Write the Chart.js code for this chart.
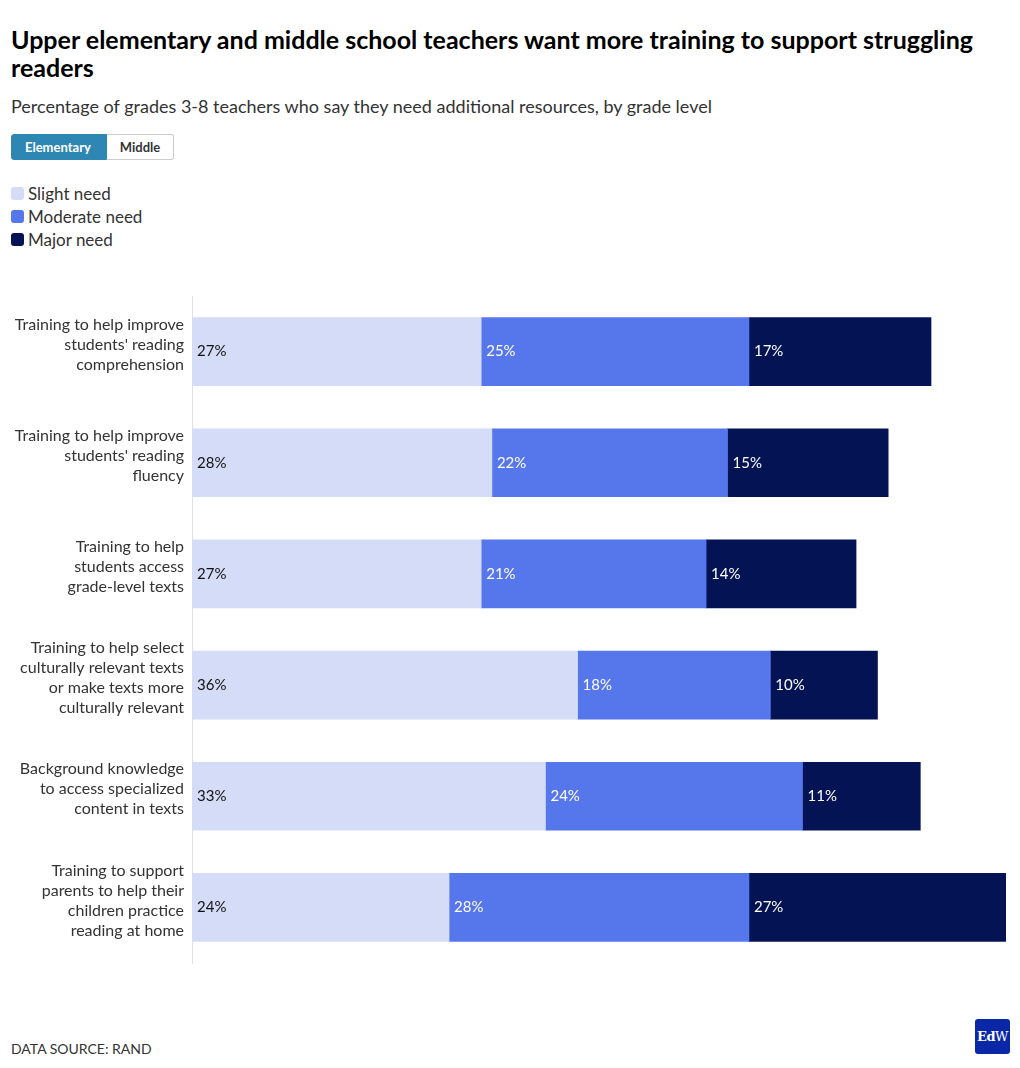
<!DOCTYPE html>
<html><head><meta charset="utf-8">
<script src="https://cdn.jsdelivr.net/npm/chart.js@4/dist/chart.umd.min.js"></script>
<style>
html,body{margin:0;padding:0;background:#fff;}
body{width:1020px;height:1068px;position:relative;font-family:"Lato","Noto Sans",sans-serif;color:#333;overflow:hidden;}
#title{position:absolute;left:11px;top:25px;width:1005px;font-size:25px;font-weight:700;line-height:28px;color:#000;}
#sub{position:absolute;left:11px;top:95px;font-size:18px;color:#333;white-space:nowrap;}
#btns{position:absolute;left:11px;top:134px;display:flex;}
.btn{height:24px;line-height:24px;font-size:13px;font-weight:700;border:1px solid #ccc;}
.on{background:#2e86b3;color:#fff;border-color:#2e86b3;border-radius:3px 0 0 3px;padding:0 15px 0 13px;}
.off{background:#fff;color:#333;border-left:none;border-radius:0 3px 3px 0;padding:0 13px 0 13px;}
#legend{position:absolute;left:11px;top:182px;}
.li{display:flex;align-items:center;height:23px;font-size:17px;color:#333;}
.sw{width:13px;height:13px;border-radius:3px;margin-right:4px;}
#cv{position:absolute;left:0;top:286px;}
#src{position:absolute;left:11px;top:1040px;font-size:14px;color:#333;}
#logo{position:absolute;left:975px;top:1019px;width:35px;height:35px;background:#0a27a8;border-radius:3px;color:#fff;font-family:"DejaVu Serif",serif;font-size:13px;font-weight:700;text-align:center;line-height:35px;letter-spacing:-0.5px;}
</style></head>
<body>
<div id="title">Upper elementary and middle school teachers want more training to support struggling<br>readers</div>
<div id="sub">Percentage of grades 3-8 teachers who say they need additional resources, by grade level</div>
<div id="btns"><div class="btn on">Elementary</div><div class="btn off">Middle</div></div>
<div id="legend"></div>
<canvas id="cv" width="1020" height="690"></canvas>
<div id="src">DATA SOURCE: RAND</div>
<div id="logo">Ed<span style="font-weight:400">W</span></div>
<script>
const categories = [
  ["Training to help improve","students' reading","comprehension"],
  ["Training to help improve","students' reading","fluency"],
  ["Training to help","students access","grade-level texts"],
  ["Training to help select","culturally relevant texts","or make texts more","culturally relevant"],
  ["Background knowledge","to access specialized","content in texts"],
  ["Training to support","parents to help their","children practice","reading at home"]
];
const seriesNames = ["Slight need","Moderate need","Major need"];
const slightNeed   = [27, 28, 27, 36, 33, 24];
const moderateNeed = [25, 22, 21, 18, 24, 28];
const majorNeed    = [17, 15, 14, 10, 11, 27];
const colors = ["#d5dcf7","#5676ec","#041353"];
const labelColors = ["#111","#fff","#fff"];

const lg = document.getElementById('legend');
seriesNames.forEach((n,i)=>{
  const d=document.createElement('div');d.className='li';
  d.innerHTML='<div class="sw" style="background:'+colors[i]+'"></div>'+n;
  lg.appendChild(d);
});

const labelPlugin = {
  id:'segLabels',
  afterDatasetsDraw(chart){
    const ctx=chart.ctx;
    ctx.save();
    ctx.font='15px Lato, "Noto Sans", sans-serif';
    ctx.textBaseline='middle';
    ctx.textAlign='left';
    chart.data.datasets.forEach((ds,di)=>{
      const meta=chart.getDatasetMeta(di);
      meta.data.forEach((bar,i)=>{
        const left=Math.min(bar.x,bar.base);
        ctx.fillStyle=labelColors[di];
        ctx.fillText(ds.data[i]+'%', left+5, bar.y);
      });
    });
    ctx.restore();
  }
};

new Chart(document.getElementById('cv'),{
  type:'bar',
  data:{
    labels:categories,
    datasets:[slightNeed,moderateNeed,majorNeed].map((d,i)=>({
      label:seriesNames[i],data:d,backgroundColor:colors[i],
      borderWidth:0,barThickness:68
    }))
  },
  options:{
    indexAxis:'y',
    responsive:false,
    animation:false,
    layout:{padding:{top:10,bottom:13,right:14,left:0}},
    plugins:{legend:{display:false},tooltip:{enabled:false}},
    scales:{
      x:{stacked:true,min:0,max:76,display:false},
      y:{stacked:true,
        grid:{display:false,drawTicks:false},
        border:{display:true,color:'#e0e0e0',width:1},
        ticks:{color:'#333',font:{size:16,family:'Lato, "Noto Sans", sans-serif',lineHeight:1.25},padding:8,labelOffset:-7},
        afterFit(s){s.width=192;s.paddingTop=0;s.paddingBottom=0;}
      }
    }
  },
  plugins:[labelPlugin]
});
</script>
</body></html>
